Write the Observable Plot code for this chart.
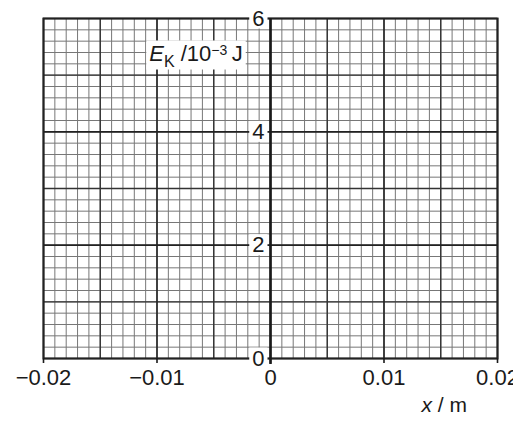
<!DOCTYPE html>
<html><head><meta charset="utf-8">
<script src="https://cdn.jsdelivr.net/npm/d3@7"></script>
<script src="https://cdn.jsdelivr.net/npm/@observablehq/plot@0.6"></script>
<style>
body{margin:0;overflow:hidden;background:#fff}
#chart svg{overflow:hidden;display:block}
</style>
</head><body><div id="chart"></div>
<script>
// Axis ticks and labels
const xTicks = [-0.02, -0.01, 0, 0.01, 0.02];
const xTickLabels = ["\u22120.02", "\u22120.01", "0", "0.01", "0.02"];
const yTicks = [0, 2, 4, 6];
const yTickLabels = ["0", "2", "4", "6"];
const xMedium = [-0.015, -0.005, 0.005, 0.015];
const yMedium = [1, 3, 5];
// minor grid: 0.001 m and 0.2 ×10^-3 J
const xMinor = d3.range(-20, 21).map(i => i / 1000);
const yMinor = d3.range(0, 31).map(i => i / 5);
const yTitle = ["E_K / 10^-3 J"];
const xTitle = ["x / m"];

const FONT = "'Liberation Sans', Arial, Helvetica, sans-serif";
const INK = "#1a1a1a";

const chart = Plot.plot({
  width: 513,
  height: 422,
  marginLeft: 43,
  marginRight: 16,
  marginTop: 18,
  marginBottom: 64,
  style: {fontFamily: FONT, background: "#fff", color: INK},
  x: {domain: [-0.02, 0.02], axis: null},
  y: {domain: [0, 6], axis: null},
  marks: [
    Plot.ruleX(xMinor, {stroke: "#777", strokeWidth: 1}),
    Plot.ruleY(yMinor, {stroke: "#777", strokeWidth: 1}),
    Plot.ruleX(xMedium, {stroke: "#333", strokeWidth: 1.4}),
    Plot.ruleY(yMedium, {stroke: "#333", strokeWidth: 1.4}),
    Plot.ruleX(xTicks, {stroke: "#222", strokeWidth: 1.6}),
    Plot.ruleY(yTicks, {stroke: "#222", strokeWidth: 1.6}),
    Plot.frame({stroke: "#222", strokeWidth: 2}),
    Plot.axisX(xTicks, {
      tickSize: 5, tickPadding: 6, fontSize: 22, strokeWidth: 1.6, color: INK,
      tickFormat: d => xTickLabels[xTicks.indexOf(d)]
    }),
    Plot.ruleX([0], {stroke: INK, strokeWidth: 2.6, insetBottom: -6}),
    Plot.text(yTicks, {
      x: () => 0, y: d => d, text: (d, i) => yTickLabels[i],
      dx: -6, textAnchor: "end", lineAnchor: "middle", fontSize: 22, fill: INK,
      ariaLabel: () => "boxed"
    }),
    Plot.text(yTitle, {
      x: () => -0.01068, y: () => 5.383, text: d => d, textAnchor: "start",
      lineAnchor: "middle", fontSize: 22, fill: INK, ariaLabel: () => "ytitle"
    }),
    Plot.text(xTitle, {
      x: () => 0.0153, frameAnchor: "bottom", text: d => d, textAnchor: "middle",
      lineAnchor: "middle", dy: 47, fontSize: 21, fill: INK, ariaLabel: () => "xtitle"
    })
  ]
});
document.getElementById("chart").append(chart);

const NS = "http://www.w3.org/2000/svg";
function ts(parent, str, attrs) {
  const t = document.createElementNS(NS, "tspan");
  for (const k in attrs) t.setAttribute(k, attrs[k]);
  t.textContent = str;
  parent.appendChild(t);
}
// y title with italic E, subscript K and superscript -3
chart.querySelectorAll('text[aria-label="ytitle"]').forEach(t => {
  t.textContent = "";
  ts(t, "E", {"font-style": "italic"});
  ts(t, "K", {"font-size": 16, dy: 6});
  ts(t, " /10", {dy: -6});
  ts(t, "\u22123", {"font-size": 14, dy: -6});
  ts(t, "\u2009J", {dy: 6});
});
chart.querySelectorAll('text[aria-label="xtitle"]').forEach(t => {
  t.textContent = "";
  ts(t, "x", {"font-style": "italic"});
  ts(t, " / m", {});
});
// white boxes behind labels
function box(sel, px, top, bottom) {
  chart.querySelectorAll(sel).forEach(t => {
    const b = t.getBBox();
    const r = document.createElementNS(NS, "rect");
    r.setAttribute("x", b.x - px);
    r.setAttribute("y", b.y + top);
    r.setAttribute("width", b.width + 2 * px);
    r.setAttribute("height", b.height - top + bottom);
    r.setAttribute("fill", "#fff");
    const tr = t.getAttribute("transform");
    if (tr) r.setAttribute("transform", tr);
    t.parentNode.insertBefore(r, t);
  });
}
box('text[aria-label="boxed"]', 3, 2, -2);
box('text[aria-label="ytitle"]', 3, 0, 0);
</script>
</body></html>
